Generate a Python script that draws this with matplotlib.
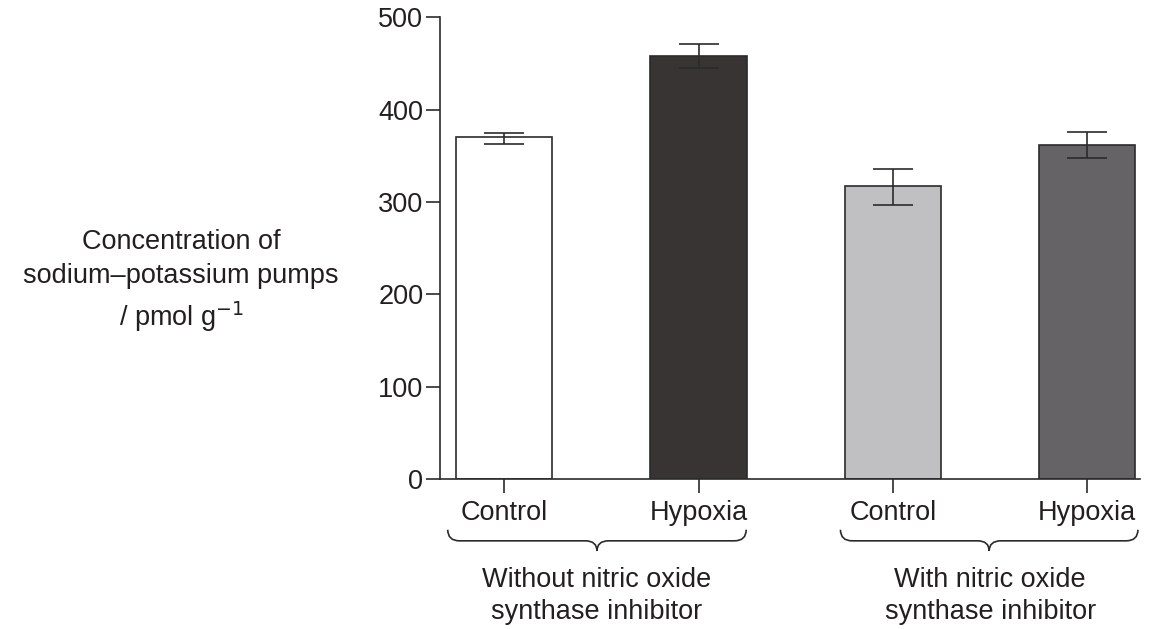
import numpy as np
import matplotlib
matplotlib.use("Agg")
import matplotlib.pyplot as plt
from matplotlib.path import Path
from matplotlib.patches import PathPatch

plt.rcParams['font.family'] = ['Liberation Sans', 'DejaVu Sans']

# данные
labels = ['Control', 'Hypoxia', 'Control', 'Hypoxia']
values = [370, 458, 317, 362]
err_lo = [7, 13, 20, 14]
err_hi = [5, 13, 19, 14]
colors = ['#ffffff', '#383433', '#c0c0c2', '#656366']
groups = ['Without nitric oxide\nsynthase inhibitor', 'With nitric oxide\nsynthase inhibitor']
yticks = [0, 100, 200, 300, 400, 500]

ink = '#2b2b2b'
txt = '#231f20'
fs = 19.5

fig = plt.figure(figsize=(11.53, 6.29), dpi=100)
ax = fig.add_axes([0.3816, 0.2385, 0.607, 0.7337])

x = np.arange(len(values))
ax.bar(x, values, width=0.495, color=colors, edgecolor=ink, linewidth=1.2, zorder=2)
ax.errorbar(x, values, yerr=[err_lo, err_hi], fmt='none', ecolor=ink,
            elinewidth=1.2, capsize=14.5, capthick=1.2, zorder=3)

ax.set_xlim(-0.33, 3.27)
ax.set_ylim(0, 500)
ax.set_yticks(yticks)
ax.set_xticks(x)
ax.set_xticklabels(labels)
ax.tick_params(axis='both', labelsize=fs, length=10, width=1.2, color=ink, labelcolor=txt)
ax.tick_params(axis='y', pad=2)
ax.tick_params(axis='x', pad=5)
for s in ['top', 'right']:
    ax.spines[s].set_visible(False)
for s in ['left', 'bottom']:
    ax.spines[s].set_color(ink)
    ax.spines[s].set_linewidth(1.2)


# фигурная скобка под группой
def brace(ax, x0, x1, y_end, y_line, y_tip):
    xm = (x0 + x1) / 2
    r = 0.06
    verts = [(x0, y_end), (x0, y_line), (x0 + r, y_line),
             (xm - r, y_line), (xm, y_line), (xm, y_tip),
             (xm, y_line), (xm + r, y_line),
             (x1 - r, y_line), (x1, y_line), (x1, y_end)]
    codes = [Path.MOVETO, Path.CURVE3, Path.CURVE3,
             Path.LINETO, Path.CURVE3, Path.CURVE3,
             Path.CURVE3, Path.CURVE3,
             Path.LINETO, Path.CURVE3, Path.CURVE3]
    p = PathPatch(Path(verts, codes), fill=False, edgecolor=ink, linewidth=1.2, clip_on=False)
    ax.add_patch(p)


brace(ax, -0.29, 1.245, -55, -67, -78)
brace(ax, 1.73, 3.26, -55, -67, -78)

ax.text(0.478, -127, groups[0], ha='center', va='center', fontsize=fs,
        color=txt, linespacing=1.3, clip_on=False)
ax.text(2.50, -127, groups[1], ha='center', va='center', fontsize=fs,
        color=txt, linespacing=1.3, clip_on=False)

fig.text(0.157, 0.553, 'Concentration of\nsodium\u2013potassium pumps\n/ pmol g$^{\u22121}$',
         ha='center', va='center', multialignment='center', fontsize=fs,
         color=txt, linespacing=1.4)

fig.savefig('out.png', dpi=100)
